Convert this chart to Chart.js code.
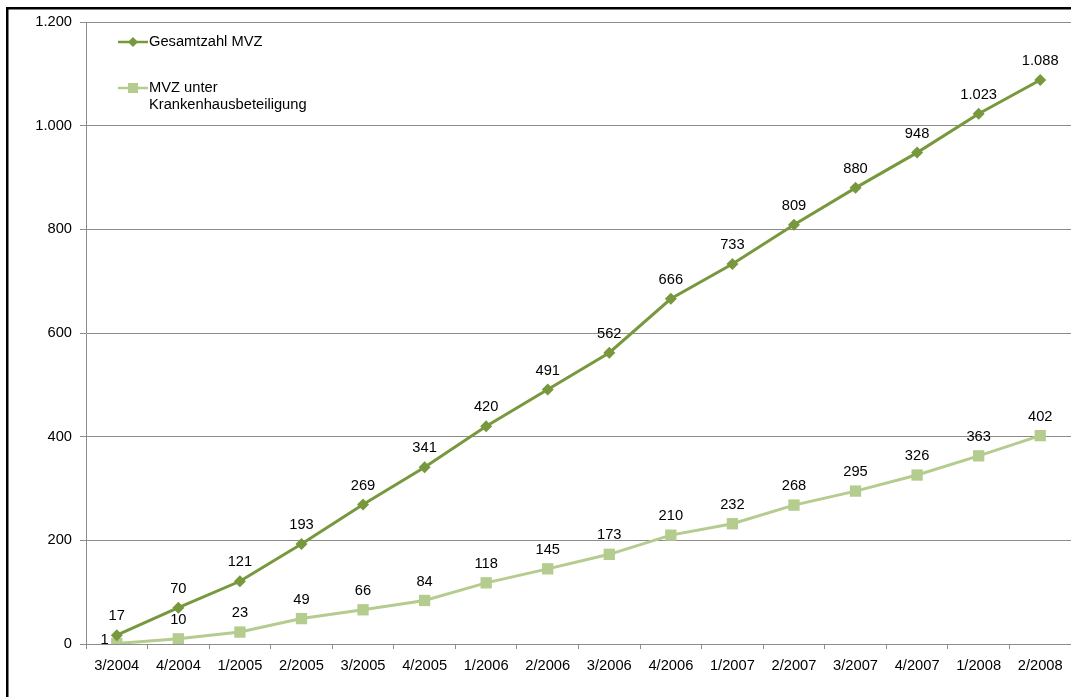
<!DOCTYPE html>
<html>
<head>
<meta charset="utf-8">
<style>
  html, body { margin: 0; padding: 0; background: #fff; overflow: hidden; }
  #wrap { position: relative; width: 1071px; height: 697px; overflow: hidden; }
  canvas { display: block; }
</style>
<script src="https://cdn.jsdelivr.net/npm/chart.js@4.4.1/dist/chart.umd.min.js"></script>
</head>
<body>
<div id="wrap"><canvas id="c" width="1079" height="697"></canvas></div>
<script>
const categories = ['3/2004','4/2004','1/2005','2/2005','3/2005','4/2005','1/2006','2/2006','3/2006','4/2006','1/2007','2/2007','3/2007','4/2007','1/2008','2/2008'];
const gesamtzahl = [17, 70, 121, 193, 269, 341, 420, 491, 562, 666, 733, 809, 880, 948, 1023, 1088];
const krankenhaus = [1, 10, 23, 49, 66, 84, 118, 145, 173, 210, 232, 268, 295, 326, 363, 402];
const seriesNames = ['Gesamtzahl MVZ', ['MVZ unter', 'Krankenhausbeteiligung']];
const yTicks = [0, 200, 400, 600, 800, 1000, 1200];

const DARK = '#77983D';
const LIGHT = '#B4CC8E';
const FONT = '"Liberation Sans", Arial, sans-serif';
const FS = 14.7;

function de(v) {
  return String(v).replace(/\B(?=(\d{3})+(?!\d))/g, '.');
}

const framePlugin = {
  id: 'frame',
  beforeDraw(chart) {
    const ctx = chart.ctx;
    ctx.save();
    ctx.fillStyle = '#000';
    ctx.fillRect(6, 7, 1073, 2.5);
    ctx.fillRect(6, 7, 2.5, 690);
    ctx.restore();
  }
};

const labelsPlugin = {
  id: 'pointLabels',
  afterDatasetsDraw(chart) {
    const ctx = chart.ctx;
    ctx.save();
    ctx.font = FS + 'px ' + FONT;
    ctx.fillStyle = '#000';
    ctx.textBaseline = 'middle';
    chart.data.datasets.forEach((ds, di) => {
      const meta = chart.getDatasetMeta(di);
      meta.data.forEach((pt, i) => {
        const txt = de(ds.data[i]);
        if (di === 1 && i === 0) {
          ctx.textAlign = 'right';
          ctx.fillText(txt, pt.x - 8, pt.y - 4);
        } else {
          ctx.textAlign = 'center';
          ctx.fillText(txt, pt.x, pt.y - 19);
        }
      });
    });
    ctx.restore();
  }
};

const legendPlugin = {
  id: 'customLegend',
  afterDraw(chart) {
    const ctx = chart.ctx;
    ctx.save();
    ctx.font = FS + 'px ' + FONT;
    ctx.fillStyle = '#000';
    ctx.textBaseline = 'middle';
    ctx.textAlign = 'left';
    ctx.strokeStyle = DARK; ctx.lineWidth = 2.5;
    ctx.beginPath(); ctx.moveTo(118, 42); ctx.lineTo(148, 42); ctx.stroke();
    ctx.fillStyle = DARK;
    ctx.beginPath(); ctx.moveTo(133, 37); ctx.lineTo(138, 42); ctx.lineTo(133, 47); ctx.lineTo(128, 42); ctx.closePath(); ctx.fill();
    ctx.fillStyle = '#000';
    ctx.fillText(seriesNames[0], 149, 42);
    ctx.strokeStyle = LIGHT;
    ctx.beginPath(); ctx.moveTo(118, 88); ctx.lineTo(148, 88); ctx.stroke();
    ctx.fillStyle = LIGHT;
    ctx.fillRect(128, 83, 10, 10);
    ctx.fillStyle = '#000';
    ctx.fillText(seriesNames[1][0], 149, 88);
    ctx.fillText(seriesNames[1][1], 149, 105);
    ctx.restore();
  }
};

new Chart(document.getElementById('c'), {
  type: 'line',
  data: {
    labels: categories,
    datasets: [
      {
        label: 'Gesamtzahl MVZ',
        data: gesamtzahl,
        borderColor: DARK,
        backgroundColor: DARK,
        borderWidth: 3,
        pointStyle: 'rectRot',
        pointRadius: 6,
        pointBorderWidth: 0,
        tension: 0
      },
      {
        label: 'MVZ unter Krankenhausbeteiligung',
        data: krankenhaus,
        borderColor: LIGHT,
        backgroundColor: LIGHT,
        borderWidth: 3,
        pointStyle: 'rect',
        pointRadius: 8,
        pointBorderWidth: 0,
        tension: 0
      }
    ]
  },
  options: {
    responsive: false,
    animation: false,
    devicePixelRatio: 1,
    layout: { padding: { left: 0, right: 0, top: 22, bottom: 0 } },
    plugins: { legend: { display: false }, tooltip: { enabled: false } },
    scales: {
      x: {
        offset: true,
        grid: { offset: true, drawOnChartArea: false, drawTicks: true, tickLength: 5, color: '#8C8C8C' },
        border: { color: '#8C8C8C', width: 1 },
        ticks: { color: '#000', font: { family: FONT, size: FS }, padding: 8, maxRotation: 0, autoSkip: false },
        afterFit(s) { s.height = 53; }
      },
      y: {
        min: 0, max: 1200,
        afterBuildTicks(s) { s.ticks = yTicks.map(v => ({ value: v })); },
        grid: { color: '#8C8C8C', tickLength: 6, lineWidth: 1 },
        border: { color: '#8C8C8C', width: 1 },
        ticks: { color: '#000', font: { family: FONT, size: FS }, padding: 8, callback: v => de(v) },
        afterFit(s) { s.width = 86; }
      }
    }
  },
  plugins: [framePlugin, labelsPlugin, legendPlugin]
});
</script>
</body>
</html>
